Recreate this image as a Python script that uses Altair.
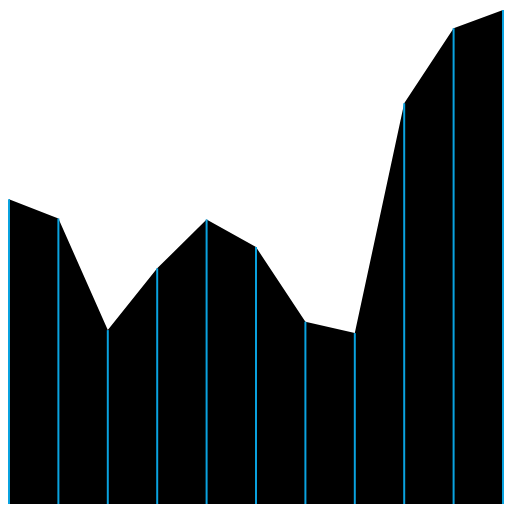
import altair as alt
import pandas as pd

idx = list(range(11))
values = [61.7, 57.8, 35.2, 47.7, 57.6, 52.0, 36.9, 34.6, 81.1, 96.3, 100.0]

df = pd.DataFrame({"i": idx, "v": values})

x = alt.X("i:Q", axis=None, scale=alt.Scale(domain=[0, 10], nice=False, zero=False))
y = alt.Y("v:Q", axis=None, scale=alt.Scale(domain=[0, 100], nice=False))

area = alt.Chart(df).mark_area(color="#000000", opacity=1).encode(x=x, y=y)
rules = alt.Chart(df).mark_rule(color="#0aa3e0", strokeWidth=2).encode(
    x=x, y=y, y2=alt.datum(0)
)

chart = alt.layer(area, rules).properties(width=496, height=496, padding=0).configure_view(
    stroke=None
)

chart.save("out.html", embed_options={"renderer": "svg", "actions": False})
